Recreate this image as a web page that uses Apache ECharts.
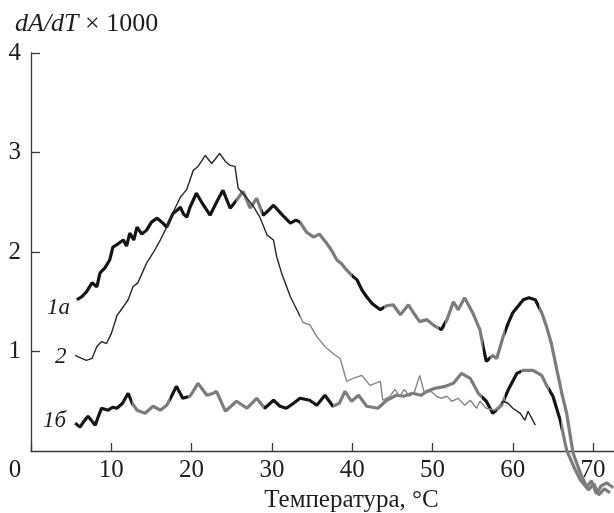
<!DOCTYPE html>
<html lang="ru">
<head>
    <meta charset="UTF-8" />
    <title>dA/dT</title>
    <script src="https://cdn.jsdelivr.net/npm/echarts@6/dist/echarts.min.js"></script>
    <style>
        html, body { margin: 0; padding: 0; background: #fff; }
        #main { width: 614px; height: 513px; }
    </style>
</head>
<body>
<div id="main"></div>
<script type="text/javascript">
    // температура, °C
    var t1a = [5.7, 6.3, 6.9, 7.6, 8.2, 8.6, 9.2, 9.8, 10.2, 10.8, 11.5, 11.9, 12.3, 12.8, 13.2, 13.8, 14.4, 15.0, 15.7, 16.3,
        16.9, 17.3, 17.7, 18.2, 18.6, 19.0, 19.4, 19.8, 20.2, 20.6, 21.4, 22.3, 23.1, 23.9, 24.8, 25.6, 26.4, 27.3, 28.1, 28.9,
        29.6, 30.2, 31.2, 32.3, 33.0, 33.5, 34.3, 35.2, 35.9, 36.8, 37.4, 38.1, 38.7, 39.3, 40.0, 40.6, 41.2, 41.8, 42.5, 43.5,
        44.3, 45.1, 46.0, 47.0, 47.7, 48.4, 49.3, 50.2, 51.1, 51.8, 52.6, 53.2, 54.0, 55.0, 55.9, 56.3, 56.7, 57.5, 58.0, 58.8,
        59.4, 60.0, 60.6, 61.3, 62.0, 62.8, 63.6, 64.2, 64.8, 65.5, 66.1, 66.7, 67.5, 68.4, 69.2, 69.8, 70.4, 71.0, 71.7, 72.5];
    var v1a = [1.52, 1.55, 1.60, 1.69, 1.65, 1.79, 1.84, 1.92, 2.05, 2.08, 2.12, 2.06, 2.19, 2.12, 2.25, 2.18, 2.22, 2.30, 2.34, 2.30,
        2.25, 2.32, 2.39, 2.42, 2.45, 2.38, 2.35, 2.45, 2.52, 2.59, 2.48, 2.37, 2.50, 2.62, 2.44, 2.52, 2.61, 2.44, 2.54, 2.37,
        2.42, 2.47, 2.38, 2.29, 2.32, 2.30, 2.20, 2.15, 2.18, 2.09, 2.02, 1.92, 1.88, 1.82, 1.76, 1.72, 1.62, 1.55, 1.48, 1.42,
        1.46, 1.47, 1.37, 1.47, 1.38, 1.30, 1.32, 1.26, 1.22, 1.32, 1.50, 1.42, 1.54, 1.39, 1.22, 1.05, 0.90, 0.96, 0.93, 1.15,
        1.28, 1.39, 1.45, 1.52, 1.54, 1.52, 1.39, 1.25, 1.08, 0.81, 0.58, 0.38, -0.02, -0.22, -0.36, -0.30, -0.43, -0.35, -0.32, -0.37];

    var t1b = [5.5, 6.1, 6.6, 7.1, 7.6, 8.0, 8.4, 8.8, 9.6, 10.2, 10.7, 11.4, 12.1, 12.6, 13.2, 14.2, 15.2, 16.1, 16.9, 17.5,
        18.1, 18.9, 19.8, 20.8, 21.9, 22.7, 23.1, 24.2, 25.6, 26.9, 28.1, 29.1, 30.2, 31.0, 31.8, 32.7, 33.5, 34.7, 35.6, 36.6,
        37.6, 38.4, 39.1, 39.9, 40.8, 41.8, 43.2, 44.3, 45.5, 46.4, 47.5, 48.6, 49.3, 50.3, 51.6, 52.6, 53.6, 54.7, 55.7, 56.7,
        57.5, 58.6, 59.4, 60.5, 61.3, 62.5, 63.6, 64.2, 65.0, 65.9, 66.7, 67.6, 68.4, 69.4, 70.1, 70.7, 71.4, 72.1];
    var v1b = [0.28, 0.24, 0.30, 0.35, 0.30, 0.26, 0.35, 0.43, 0.41, 0.44, 0.43, 0.48, 0.58, 0.48, 0.41, 0.38, 0.45, 0.41, 0.46, 0.55,
        0.65, 0.53, 0.55, 0.68, 0.56, 0.58, 0.60, 0.40, 0.50, 0.43, 0.53, 0.43, 0.51, 0.45, 0.43, 0.48, 0.53, 0.51, 0.46, 0.56,
        0.45, 0.48, 0.60, 0.50, 0.56, 0.45, 0.43, 0.51, 0.56, 0.55, 0.58, 0.56, 0.60, 0.63, 0.65, 0.68, 0.78, 0.73, 0.58, 0.50,
        0.38, 0.46, 0.61, 0.78, 0.81, 0.81, 0.76, 0.66, 0.55, 0.31, 0.01, -0.16, -0.29, -0.39, -0.33, -0.44, -0.38, -0.42];

    var t2 = [5.5, 6.3, 6.9, 7.6, 8.2, 8.8, 9.4, 10.0, 10.7, 11.5, 12.1, 12.7, 13.3, 13.8, 14.4, 15.2, 16.1, 16.9, 17.7, 18.6,
        19.4, 20.2, 20.8, 21.7, 22.5, 23.5, 24.2, 24.8, 25.4, 25.8, 26.6, 27.6, 28.5, 29.4, 30.2, 30.6, 31.2, 32.3, 33.1, 33.9,
        34.7, 35.6, 36.6, 37.6, 38.5, 39.3, 40.1, 41.2, 42.2, 43.5, 43.8, 44.7, 45.3, 45.9, 46.5, 47.1, 47.7, 48.4, 49.0, 49.8,
        50.5, 51.1, 51.8, 52.4, 53.2, 54.0, 54.7, 55.5, 55.9, 56.7, 57.8, 58.8, 59.4, 60.0, 60.9, 61.5, 61.9, 62.8];
    var v2 = [0.96, 0.93, 0.91, 0.93, 1.05, 1.10, 1.08, 1.18, 1.36, 1.45, 1.52, 1.65, 1.69, 1.78, 1.89, 1.99, 2.12, 2.25, 2.40, 2.55,
        2.63, 2.82, 2.86, 2.97, 2.89, 2.99, 2.91, 2.87, 2.86, 2.64, 2.57, 2.47, 2.35, 2.17, 2.12, 1.95, 1.79, 1.55, 1.42, 1.29,
        1.27, 1.15, 1.05, 0.98, 0.93, 0.70, 0.73, 0.76, 0.66, 0.70, 0.51, 0.55, 0.62, 0.55, 0.62, 0.55, 0.58, 0.76, 0.58, 0.60,
        0.55, 0.53, 0.55, 0.50, 0.53, 0.46, 0.51, 0.43, 0.50, 0.43, 0.41, 0.50, 0.48, 0.43, 0.38, 0.31, 0.40, 0.26];

    var xTicks = [0, 10, 20, 30, 40, 50, 60, 70];
    var yTicks = [1, 2, 3, 4];

    function zip(xs, ys) {
        var out = [];
        for (var i = 0; i < xs.length; i++) out.push([xs[i], ys[i]]);
        return out;
    }

    var K = '#151515', G = '#7c7c7c';
    var serif = '"Liberation Serif", "DejaVu Serif", serif';

    var myChart = echarts.init(document.getElementById('main'));
    var option = {
        backgroundColor: '#fff',
        animation: false,
        title: {
            text: '{i|dA/dT} × 1000',
            left: 10,
            top: 6,
            textStyle: {
                fontFamily: serif, fontSize: 26, fontWeight: 'normal', color: '#1e1e1e',
                rich: { i: { fontFamily: serif, fontSize: 26, fontStyle: 'italic', color: '#1e1e1e' } }
            }
        },
        grid: { left: 31, top: 53, width: 583, height: 398, containLabel: false, outerBoundsMode: 'none' },
        xAxis: {
            type: 'value', min: 0, max: 72.6, interval: 10,
            name: 'Температура, °C',
            nameLocation: 'middle',
            nameGap: 33,
            nameTextStyle: { fontFamily: serif, fontSize: 25, color: '#1e1e1e', padding: [0, 0, 0, 58] },
            axisLine: { lineStyle: { color: '#3a3a3a', width: 1.3 } },
            axisTick: { inside: true, length: 8, lineStyle: { color: '#3a3a3a', width: 1.3 } },
            splitLine: { show: false },
            axisLabel: {
                showMaxLabel: false,
                margin: 7,
                fontFamily: serif, fontSize: 25, color: '#1e1e1e',
                formatter: function (v) {
                    if (xTicks.indexOf(v) < 0) return '';
                    return v === 0 ? '{z|0}' : String(v);
                },
                rich: { z: { fontFamily: serif, fontSize: 25, color: '#1e1e1e', padding: [0, 32, 0, 0] } }
            }
        },
        yAxis: {
            type: 'value', min: 0, max: 4, interval: 1,
            axisLine: { show: true, lineStyle: { color: '#3a3a3a', width: 1.3 } },
            axisTick: { show: true, inside: true, length: 9, lineStyle: { color: '#3a3a3a', width: 1.3 } },
            splitLine: { show: false },
            axisLabel: {
                showMinLabel: false,
                margin: 10,
                fontFamily: serif, fontSize: 25, color: '#1e1e1e',
                formatter: function (v) { return yTicks.indexOf(v) < 0 ? '' : String(v); }
            }
        },
        visualMap: [
            {
                show: false, seriesIndex: 0, dimension: 0,
                pieces: [
                    { lt: 25.5, color: K }, { gte: 25.5, lt: 28.8, color: G }, { gte: 28.8, lt: 33.5, color: K },
                    { gte: 33.5, lt: 40, color: G }, { gte: 40, lt: 44, color: K }, { gte: 44, lt: 50.8, color: G },
                    { gte: 50.8, lt: 51.6, color: K }, { gte: 51.6, lt: 56.3, color: G }, { gte: 56.3, lt: 57.2, color: K },
                    { gte: 57.2, lt: 59, color: G }, { gte: 59, lt: 63.3, color: K }, { gte: 63.3, color: G }
                ]
            },
            {
                show: false, seriesIndex: 1, dimension: 0,
                pieces: [
                    { lt: 12.6, color: K }, { gte: 12.6, lt: 17.3, color: G }, { gte: 17.3, lt: 19.6, color: K },
                    { gte: 19.6, lt: 29, color: G }, { gte: 29, lt: 37.6, color: K }, { gte: 37.6, lt: 56.2, color: G },
                    { gte: 56.2, lt: 58, color: K }, { gte: 58, lt: 59, color: G }, { gte: 59, lt: 61, color: K },
                    { gte: 61, lt: 64.5, color: G }, { gte: 64.5, lt: 66, color: K }, { gte: 66, color: G }
                ]
            },
            {
                show: false, seriesIndex: 2, dimension: 0,
                pieces: [
                    { lt: 33.5, color: '#262626' }, { gte: 33.5, lt: 58.5, color: '#858585' }, { gte: 58.5, color: '#262626' }
                ]
            }
        ],
        series: [
            { name: '1a', type: 'line', data: zip(t1a, v1a), showSymbol: false, clip: false, lineStyle: { width: 3.2 } },
            { name: '1б', type: 'line', data: zip(t1b, v1b), showSymbol: false, clip: false, lineStyle: { width: 3.2 } },
            { name: '2', type: 'line', data: zip(t2, v2), showSymbol: false, clip: false, lineStyle: { width: 1.4 } }
        ],
        graphic: [
            { type: 'text', left: 47, top: 296, style: { text: '1a', font: 'italic 23px ' + serif, fill: '#1e1e1e' } },
            { type: 'text', left: 55, top: 345, style: { text: '2', font: 'italic 23px ' + serif, fill: '#1e1e1e' } },
            { type: 'text', left: 43, top: 409, style: { text: '1б', font: 'italic 23px ' + serif, fill: '#1e1e1e' } }
        ]
    };
    myChart.setOption(option);
</script>
</body>
</html>
